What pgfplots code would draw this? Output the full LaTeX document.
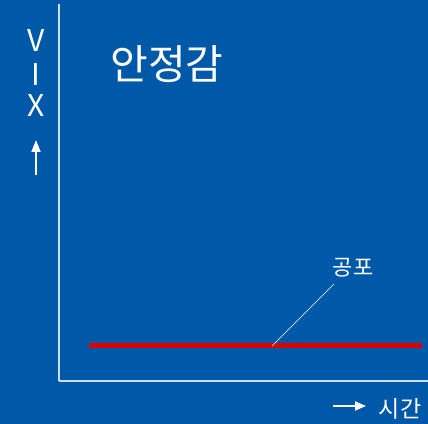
\documentclass[border=0pt]{standalone}
\usepackage{pgfplots}
\pgfplotsset{compat=1.18}
\usetikzlibrary{arrows.meta}
\usepackage{fontspec}
\setmainfont{Noto Sans CJK KR}
\definecolor{bg}{RGB}{0,89,168}
\definecolor{axl}{RGB}{205,222,240}
\definecolor{fear}{RGB}{221,0,0}
\begin{document}
\begin{tikzpicture}
\fill[bg] (0,0) rectangle (428bp,424bp);
\useasboundingbox (0,0) rectangle (428bp,424bp);
\begin{axis}[
  at={(59bp,43bp)}, anchor=origin,
  scale only axis, width=369bp, height=377bp,
  xmin=0, xmax=369, ymin=0, ymax=377,
  axis lines=left, axis line style={-, axl, line width=1.5bp},
  xtick=\empty, ytick=\empty,
  clip=false,
]
\addplot[fear, line width=5bp] coordinates {(30,35) (363,35)};
\addplot[white, line width=0.7bp] coordinates {(213,35) (275,97)};
\node[white, font=\fontsize{22bp}{26bp}\selectfont] at (axis cs:294,113) {공포};
\node[white, font=\fontsize{41bp}{46bp}\selectfont] at (axis cs:108,317) {안정감};
\end{axis}
\node[white, font=\fontsize{30bp}{32bp}\selectfont] at (36bp,383bp) {V};
\node[white, font=\fontsize{30bp}{32bp}\selectfont] at (36bp,349bp) {I};
\node[white, font=\fontsize{30bp}{32bp}\selectfont] at (36bp,318bp) {X};
\draw[white, line width=1.8bp, -{Triangle[width=9bp,length=12bp]}] (36bp,249bp) -- (36bp,284bp);
\draw[white, line width=1.8bp, -{Triangle[width=9bp,length=11bp]}] (333bp,18bp) -- (366bp,18bp);
\node[white, font=\fontsize{23bp}{26bp}\selectfont] at (400bp,15bp) {시간};
\end{tikzpicture}
\end{document}
